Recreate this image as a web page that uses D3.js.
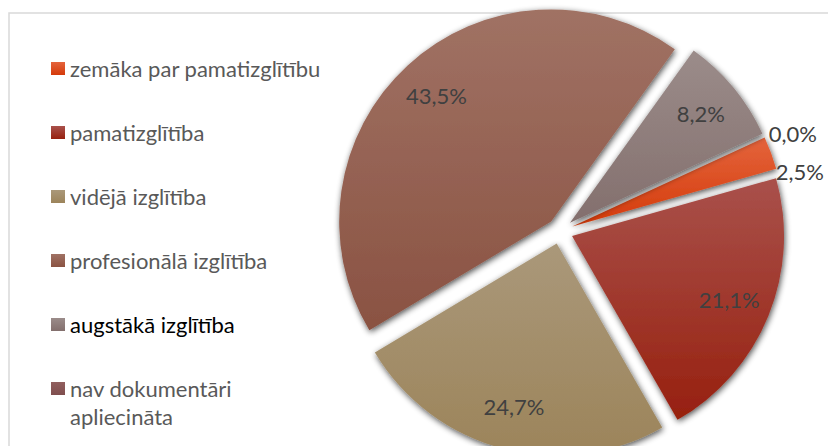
<!DOCTYPE html>
<html>
<head>
<meta charset="utf-8">
<script src="https://cdn.jsdelivr.net/npm/d3@7"></script>
<style>
  body { margin: 0; background: #fff; }
  svg { display: block; font-family: Lato, "Open Sans", sans-serif; }
</style>
</head>
<body>
<svg id="chart" width="828" height="446"></svg>
<script>
// data
var categories = ["zemāka par pamatizglītību", "pamatizglītība", "vidējā izglītība",
                  "profesionālā izglītība", "augstākā izglītība", "nav dokumentāri\napliecināta"];
var shares = [2.5, 21.1, 24.7, 43.5, 8.2, 0.0];
var shareLabels = ["2,5%", "21,1%", "24,7%", "43,5%", "8,2%", "0,0%"];

// gradient stops: top colour, bottom colour
var colorsTop = ["#e4643c", "#a9514b", "#aa987a", "#a07264", "#9b8c8a", "#915f5e"];
var colorsBot = ["#d43a0a", "#97200f", "#9c845a", "#8a5242", "#836f6d", "#7f4e4e"];

var svg = d3.select("#chart");
var W = 828, H = 446;

var cx = 560, cy = 231, R = 212, explode = 13;

var defs = svg.append("defs");
colorsTop.forEach(function(c, i){
  var g = defs.append("linearGradient").attr("id", "grad" + i)
    .attr("x1", 0).attr("y1", 0).attr("x2", 0).attr("y2", 1);
  g.append("stop").attr("offset", "0%").attr("stop-color", c);
  g.append("stop").attr("offset", "100%").attr("stop-color", colorsBot[i]);
});

var f = defs.append("filter").attr("id", "shadow")
  .attr("x", "-20%").attr("y", "-20%").attr("width", "140%").attr("height", "140%");
f.append("feGaussianBlur").attr("in", "SourceAlpha").attr("stdDeviation", 3).attr("result", "blur");
f.append("feOffset").attr("in", "blur").attr("dx", 1).attr("dy", 1.5).attr("result", "off");
f.append("feComponentTransfer").attr("in", "off").attr("result", "sh")
  .append("feFuncA").attr("type", "linear").attr("slope", 0.7);
var m = f.append("feMerge");
m.append("feMergeNode").attr("in", "sh");
m.append("feMergeNode").attr("in", "SourceGraphic");

// chart area border
svg.append("path")
  .attr("d", "M9," + (H + 5) + "V13H" + (W + 5))
  .attr("fill", "none").attr("stroke", "#d9d9d9").attr("stroke-width", 1.5);

// pie
var deg = Math.PI / 180;
var pie = d3.pie().sort(null).value(function(d){ return d; })
  .startAngle(65.2 * deg).endAngle(425.2 * deg);
var arcs = pie(shares);
var arc = d3.arc().innerRadius(0).outerRadius(R);

var g = svg.append("g").attr("transform", "translate(" + cx + "," + cy + ")");

g.selectAll("path.slice")
  .data(arcs.filter(function(d){ return d.value > 0; }))
  .enter().append("path")
  .attr("class", "slice")
  .attr("transform", function(d){
    var a = (d.startAngle + d.endAngle) / 2;
    return "translate(" + (Math.sin(a) * explode) + "," + (-Math.cos(a) * explode) + ")";
  })
  .attr("d", arc)
  .attr("fill", function(d){ return "url(#grad" + d.index + ")"; })
  .attr("filter", "url(#shadow)");

// data labels: inside for big slices, outside for small ones
var inside = [], outside = [];
arcs.forEach(function(d){
  var a = (d.startAngle + d.endAngle) / 2;
  if (d.value >= 5) {
    var rr = explode + R * 0.8;
    inside.push({ t: shareLabels[d.index], x: Math.sin(a) * rr, y: -Math.cos(a) * rr });
  } else {
    var ro = 230;
    outside.push({ t: shareLabels[d.index], x: Math.sin(a) * ro, y: -Math.cos(a) * ro });
  }
});
// push overlapping outside labels apart
outside.sort(function(a, b){ return a.y - b.y; });
for (var i = 1; i < outside.length; i++) {
  if (outside[i].y - outside[i - 1].y < 38) outside[i].y = outside[i - 1].y + 38;
}

g.selectAll("text.in").data(inside).enter().append("text")
  .attr("class", "in")
  .attr("x", function(d){ return d.x; })
  .attr("y", function(d){ return d.y; })
  .attr("text-anchor", "middle").attr("dy", "0.35em")
  .attr("font-size", 22).attr("fill", "#404040")
  .text(function(d){ return d.t; });

g.selectAll("text.out").data(outside).enter().append("text")
  .attr("class", "out")
  .attr("x", function(d){ return d.x; })
  .attr("y", function(d){ return d.y; })
  .attr("text-anchor", "start").attr("dy", "0.35em")
  .attr("font-size", 22).attr("fill", "#404040")
  .text(function(d){ return d.t; });

// legend
var legendY = d3.scalePoint().domain(d3.range(categories.length)).range([69, 389]);
var lg = svg.append("g");
var items = lg.selectAll("g.item").data(categories).enter().append("g")
  .attr("class", "item")
  .attr("transform", function(d, i){ return "translate(51," + legendY(i) + ")"; });
items.append("rect")
  .attr("x", 0).attr("y", -7).attr("width", 14).attr("height", 13)
  .attr("fill", function(d, i){ return "url(#grad" + i + ")"; });
items.append("text")
  .attr("x", 19).attr("y", 0)
  .attr("font-size", 22)
  .attr("fill", function(d, i){ return i === 4 ? "#000" : "#595959"; })
  .each(function(d){
    var t = d3.select(this);
    d.split("\n").forEach(function(line, k){
      t.append("tspan").attr("x", 19).attr("dy", k === 0 ? "0.35em" : "1.3em").text(line);
    });
  });
</script>
</body>
</html>
